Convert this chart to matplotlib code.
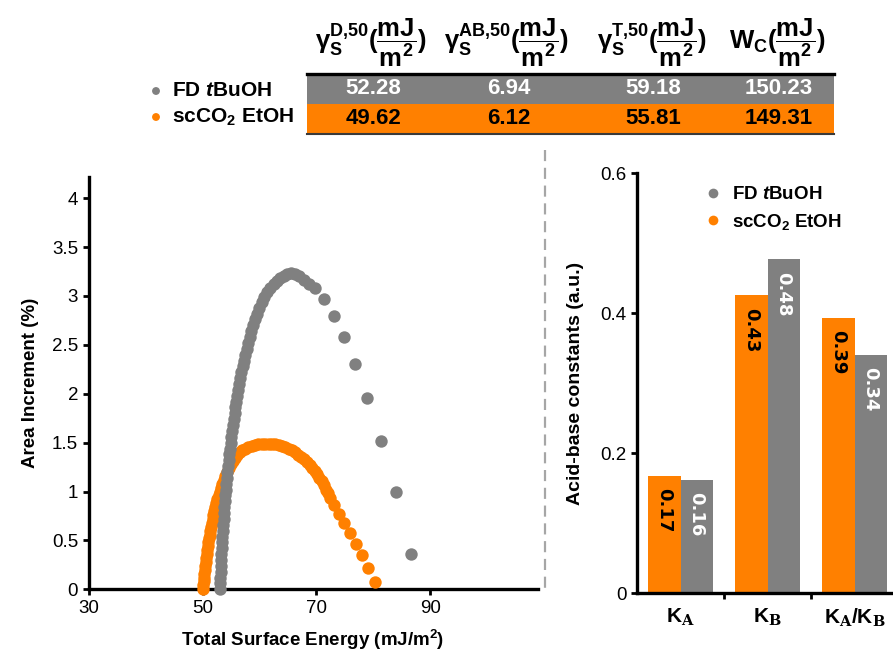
import matplotlib

matplotlib.use("Agg")
import matplotlib.pyplot as plt
from matplotlib.lines import Line2D
from matplotlib.patches import Rectangle
from matplotlib.ticker import StrMethodFormatter

plt.rcParams["font.family"] = ["Liberation Sans", "DejaVu Sans"]
plt.rcParams["mathtext.fontset"] = "custom"
plt.rcParams["mathtext.bf"] = "Liberation Sans:bold"
plt.rcParams["mathtext.it"] = "Liberation Sans:italic:bold"
plt.rcParams["mathtext.rm"] = "DejaVu Serif:bold"

GRAY = "#808080"
ORANGE = "#ff8000"

# area increment (%) vs total surface energy (mJ/m2)
FD_X = [53.00, 53.05, 53.11, 53.16, 53.22, 53.27, 53.32, 53.38, 53.43, 53.49,
        53.56, 53.62, 53.69, 53.76, 53.82, 53.89, 53.96, 54.04, 54.14, 54.25,
        54.37, 54.49, 54.61, 54.72, 54.84, 54.95, 55.08, 55.22, 55.36, 55.50,
        55.64, 55.78, 55.92, 56.06, 56.23, 56.42, 56.63, 56.84, 57.06, 57.30,
        57.54, 57.76, 58.00, 58.27, 58.56, 58.87, 59.18, 59.55, 59.95, 60.40,
        60.85, 61.38, 61.92, 62.50, 63.05, 63.65, 64.25, 64.90, 65.55, 66.25,
        67.00, 67.85, 68.75, 69.70, 71.40, 73.00, 74.85, 76.75, 78.95, 81.30,
        83.90, 86.60]
FD_Y = [0.00, 0.06, 0.12, 0.18, 0.24, 0.30, 0.36, 0.42, 0.48, 0.54,
        0.60, 0.66, 0.72, 0.78, 0.84, 0.90, 0.96, 1.02, 1.08, 1.14,
        1.20, 1.26, 1.32, 1.38, 1.44, 1.50, 1.56, 1.62, 1.68, 1.74,
        1.80, 1.86, 1.92, 1.98, 2.04, 2.10, 2.16, 2.22, 2.28, 2.34,
        2.40, 2.46, 2.52, 2.58, 2.64, 2.70, 2.76, 2.82, 2.88, 2.94,
        2.99, 3.04, 3.08, 3.12, 3.15, 3.18, 3.20, 3.22, 3.23, 3.22,
        3.20, 3.16, 3.12, 3.08, 2.97, 2.80, 2.58, 2.30, 1.96, 1.52,
        1.00, 0.36]

SC_X = [50.10, 50.15, 50.21, 50.27, 50.34, 50.41, 50.48, 50.56, 50.64, 50.73,
        50.83, 50.93, 51.04, 51.15, 51.27, 51.39, 51.52, 51.65, 51.78, 51.92,
        52.08, 52.25, 52.43, 52.62, 52.82, 53.02, 53.22, 53.45, 53.70, 53.97,
        54.27, 54.60, 54.96, 55.30, 55.68, 56.10, 56.55, 57.00, 57.50, 58.05,
        58.60, 59.20, 59.80, 60.40, 61.00, 61.60, 62.20, 62.80, 63.40, 64.00,
        64.55, 65.10, 65.65, 66.20, 66.75, 67.30, 67.80, 68.30, 68.80, 69.25,
        69.70, 70.10, 70.50, 70.90, 71.30, 71.70, 72.00, 72.30, 73.00, 73.90,
        74.80, 75.85, 76.90, 77.95, 79.10, 80.20]
SC_Y = [0.00, 0.04, 0.08, 0.12, 0.16, 0.20, 0.24, 0.28, 0.32, 0.36,
        0.40, 0.44, 0.48, 0.52, 0.56, 0.60, 0.64, 0.68, 0.72, 0.76,
        0.80, 0.84, 0.88, 0.92, 0.96, 1.00, 1.04, 1.08, 1.12, 1.16,
        1.20, 1.24, 1.28, 1.31, 1.34, 1.37, 1.40, 1.42, 1.44, 1.455,
        1.467, 1.476, 1.483, 1.487, 1.49, 1.49, 1.487, 1.482, 1.475, 1.465,
        1.452, 1.437, 1.42, 1.40, 1.378, 1.354, 1.328, 1.30, 1.27, 1.24,
        1.21, 1.175, 1.14, 1.105, 1.065, 1.02, 0.98, 0.93, 0.86, 0.775,
        0.68, 0.58, 0.465, 0.35, 0.215, 0.07]

# acid-base constants
CATEGORIES = [r"$\mathbf{K}_\mathrm{A}$", r"$\mathbf{K}_\mathrm{B}$",
              r"$\mathbf{K}_\mathrm{A}\mathbf{/K}_\mathrm{B}$"]
FD_CONST = [0.162, 0.477, 0.341]
SC_CONST = [0.168, 0.426, 0.394]

# summary table
SERIES = [r"FD $\mathit{t}$BuOH", r"scCO$_\mathbf{2}$ EtOH"]
TABLE_HEADERS = [
    r"$\mathbf{γ_S^{D{,}50}(\dfrac{mJ}{m^2})}$",
    r"$\mathbf{γ_S^{AB{,}50}(\dfrac{mJ}{m^2})}$",
    r"$\mathbf{γ_S^{T{,}50}(\dfrac{mJ}{m^2})}$",
    r"$\mathbf{W_C(\dfrac{mJ}{m^2})}$",
]
FD_TABLE = [52.28, 6.94, 59.18, 150.23]
SC_TABLE = [49.62, 6.12, 55.81, 149.31]

W, H = 893, 654


def px_rect(left, top, right, bottom):
    return [left / W, 1 - bottom / H, (right - left) / W, (bottom - top) / H]


fig = plt.figure(figsize=(W / 100, H / 100), dpi=100)

# overlay in pixel coordinates for the table and the divider
ov = fig.add_axes([0, 0, 1, 1])
ov.set_xlim(0, W)
ov.set_ylim(H, 0)
ov.axis("off")

col_centers = [373, 509, 653, 779]
head_centers = [371, 506, 652, 777]
ov.add_patch(Rectangle((307, 74), 527, 29.5, color=GRAY, lw=0))
ov.add_patch(Rectangle((307, 103.5), 527, 29.5, color=ORANGE, lw=0))
ov.plot([307, 834], [73.5, 73.5], color="black", lw=2.4)
ov.plot([307, 834], [133.5, 133.5], color="#3a3a3a", lw=1.5)
for xc, head in zip(head_centers, TABLE_HEADERS):
    ov.text(xc, 43, head, ha="center", va="center", fontsize=18.5)
for xc, a, b in zip(col_centers, FD_TABLE, SC_TABLE):
    ov.text(xc, 89, f"{a:.2f}", ha="center", va="center", fontsize=16,
            fontweight="bold", color="white")
    ov.text(xc, 118.5, f"{b:.2f}", ha="center", va="center", fontsize=16,
            fontweight="bold", color="black")
ov.scatter([156, 156], [91, 117], s=32, c=[GRAY, ORANGE], linewidths=0)
ov.text(172, 91, SERIES[0], ha="left", va="center", fontsize=15, fontweight="bold")
ov.text(172, 117, SERIES[1], ha="left", va="center", fontsize=15, fontweight="bold")

ov.plot([545, 545], [150, 593], color="#a6a6a6", lw=1.6, dashes=(5, 3))

# left panel
ax = fig.add_axes(px_rect(88.6, 176.7, 537.5, 589.3))
ax.scatter(SC_X, SC_Y, s=80, color=ORANGE, linewidths=0, zorder=3, clip_on=False)
ax.scatter(FD_X, FD_Y, s=80, color=GRAY, linewidths=0, zorder=4, clip_on=False)
ax.set_xlim(30, 108.8)
ax.set_ylim(0, 4.22)
ax.set_xticks([30, 50, 70, 90])
ax.set_yticks([0, 0.5, 1, 1.5, 2, 2.5, 3, 3.5, 4])
ax.yaxis.set_major_formatter(StrMethodFormatter("{x:g}"))
ax.set_xlabel("Total Surface Energy (mJ/m$^\\mathbf{2}$)", fontsize=13.5,
              fontweight="bold", labelpad=8)
ax.set_ylabel("Area Increment (%)", fontsize=13.5, fontweight="bold", labelpad=9)

# right panel
bx = fig.add_axes(px_rect(637, 173.3, 898, 593.3))
pos = list(range(len(CATEGORIES)))
bw = 0.37
bx.bar([p - bw / 2 for p in pos], SC_CONST, width=bw, color=ORANGE, zorder=2)
bx.bar([p + bw / 2 for p in pos], FD_CONST, width=bw, color=GRAY, zorder=2)
for p, a, b in zip(pos, SC_CONST, FD_CONST):
    bx.annotate(f"{a:.2f}", (p - bw / 2, a), xytext=(0, -9), textcoords="offset points",
                rotation=270, ha="center", va="top", fontsize=13, fontweight="bold",
                family="DejaVu Sans", color="black")
    bx.annotate(f"{b:.2f}", (p + bw / 2, b), xytext=(0, -9), textcoords="offset points",
                rotation=270, ha="center", va="top", fontsize=13, fontweight="bold",
                family="DejaVu Sans", color="white")
bx.set_xlim(-0.5, 2.5)
bx.set_ylim(0, 0.6)
bx.set_yticks([0, 0.2, 0.4, 0.6])
bx.yaxis.set_major_formatter(StrMethodFormatter("{x:g}"))
bx.set_xticks(pos)
bx.set_xticklabels(CATEGORIES)
bx.set_xticks([0.5, 1.5], minor=True)
bx.tick_params(axis="x", which="minor", length=4, width=2)
bx.set_ylabel("Acid-base constants (a.u.)", fontsize=14, fontweight="bold", labelpad=12)
handles = [
    Line2D([], [], ls="none", marker="o", ms=7, color=GRAY, mec="none"),
    Line2D([], [], ls="none", marker="o", ms=7, color=ORANGE, mec="none"),
]
bx.legend(handles, SERIES, loc="upper left", bbox_to_anchor=(0.185, 1.01), frameon=False,
          handletextpad=0.4, labelspacing=0.45, handlelength=1.2,
          prop={"size": 13.5, "weight": "bold"})

for a in (ax, bx):
    for side in ("top", "right"):
        a.spines[side].set_visible(False)
    for side in ("left", "bottom"):
        a.spines[side].set_linewidth(2.4)
    a.tick_params(axis="both", which="major", labelsize=13.5, width=2, length=4, direction="out")
bx.tick_params(axis="x", which="major", length=0, labelsize=15, pad=10)

fig.savefig("out.png", dpi=100)
